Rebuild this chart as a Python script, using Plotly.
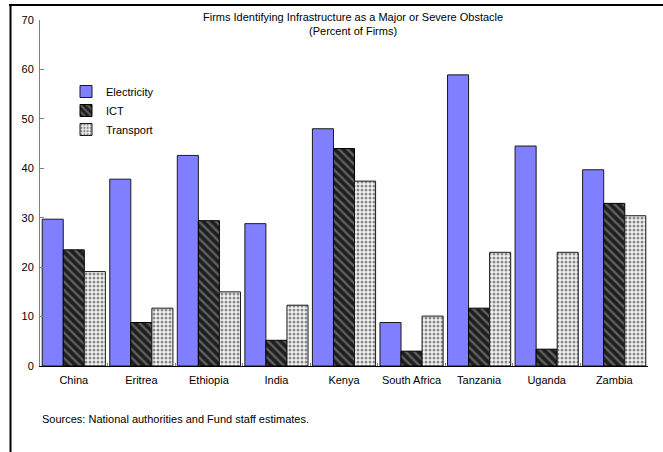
import plotly.graph_objects as go

countries = ["China", "Eritrea", "Ethiopia", "India", "Kenya",
             "South Africa", "Tanzania", "Uganda", "Zambia"]
electricity = [29.7, 37.8, 42.6, 28.8, 48.0, 8.8, 58.9, 44.5, 39.7]
ict = [23.5, 8.8, 29.4, 5.2, 44.0, 3.0, 11.7, 3.4, 32.9]
transport = [19.1, 11.7, 15.0, 12.3, 37.4, 10.1, 23.0, 23.0, 30.4]
y_ticks = [0, 10, 20, 30, 40, 50, 60, 70]

W, H = 663, 452
L, R, T, B = 40, 15, 20, 86
pw, ph = W - L - R, H - T - B


def px(x):
    return (x - L) / pw


def py(y):
    return (H - B - y) / ph


FONT = "Liberation Sans, Arial, sans-serif"

fig = go.Figure()
fig.add_trace(go.Bar(
    name="Electricity", x=countries, y=electricity,
    marker=dict(color="#7f7fff", line=dict(color="#1a1a1a", width=1)),
))
fig.add_trace(go.Bar(
    name="ICT", x=countries, y=ict,
    marker=dict(color="#1e1e1e", line=dict(color="#000000", width=1),
                pattern=dict(shape="\\", bgcolor="#1e1e1e", fgcolor="#5f5f5f",
                             size=6, solidity=0.4, fillmode="replace")),
))
fig.add_trace(go.Bar(
    name="Transport", x=countries, y=transport,
    marker=dict(color="#ffffff", line=dict(color="#1a1a1a", width=1),
                pattern=dict(shape=".", bgcolor="#f4f4f4", fgcolor="#8a8a8a",
                             size=4, solidity=0.45, fillmode="replace")),
))

fig.update_layout(
    width=W, height=H,
    margin=dict(l=L, r=R, t=T, b=B),
    paper_bgcolor="white", plot_bgcolor="white",
    barmode="group", bargap=0.065, bargroupgap=0,
    font=dict(family=FONT, size=11, color="black"),
    showlegend=True,
    legend=dict(x=px(66), y=py(77), xanchor="left", yanchor="top",
                bgcolor="rgba(0,0,0,0)", font=dict(size=11),
                itemwidth=30, tracegroupgap=0),
)

fig.update_xaxes(
    showline=True, linecolor="black", linewidth=1, tickangle=0,
    ticks="inside", ticklen=3, tickcolor="#808080", tickson="boundaries",
    showgrid=False, tickfont=dict(size=11), mirror=False,
    ticklabelstandoff=4,
)
fig.update_yaxes(
    range=[0, 70], tickvals=y_ticks, showline=True, linecolor="#808080",
    linewidth=1, ticks="inside", ticklen=4, tickcolor="#808080",
    showgrid=False, zeroline=False, tickfont=dict(size=11),
    ticklabelstandoff=3,
)

fig.add_annotation(
    x=px(353), y=py(23.5), xref="paper", yref="paper",
    text="Firms Identifying Infrastructure as a Major or Severe Obstacle<br>(Percent of Firms)",
    showarrow=False, font=dict(size=11), align="center",
    xanchor="center", yanchor="middle",
)
fig.add_annotation(
    x=px(40), y=py(419), xref="paper", yref="paper",
    text="Sources: National authorities and Fund staff estimates.",
    showarrow=False, font=dict(size=11), xanchor="left", yanchor="middle",
)

# Frame along the top and left edges of the figure
fig.add_shape(type="line", xref="paper", yref="paper",
              x0=px(9), x1=px(700), y0=py(5), y1=py(5),
              line=dict(color="black", width=2))
fig.add_shape(type="line", xref="paper", yref="paper",
              x0=px(10.5), x1=px(10.5), y0=py(4), y1=py(470),
              line=dict(color="black", width=2))

fig.write_html("out.html")
